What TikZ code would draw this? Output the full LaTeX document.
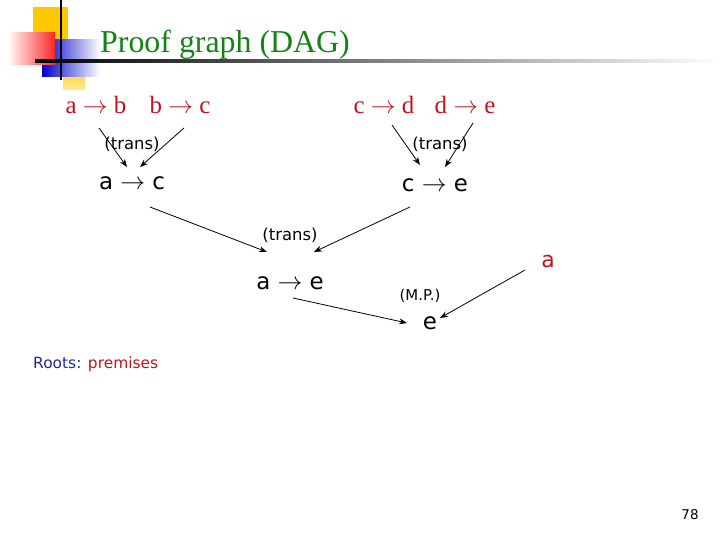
\documentclass[tikz,border=0pt]{standalone}
\usepackage{fontspec}
\setmainfont{Liberation Serif}
\setsansfont{DejaVu Sans}
\usetikzlibrary{arrows.meta}
\definecolor{dgreen}{RGB}{20,130,20}
\definecolor{dred}{RGB}{190,20,30}
\definecolor{dblue}{RGB}{40,40,150}
\definecolor{gold}{RGB}{255,200,0}
\tikzset{x=1bp,y=-1bp,
prem/.style={text=dred,font=\fontsize{25}{26}\selectfont,inner sep=0pt},
rule/.style={font=\sffamily\fontsize{16.5}{18}\selectfont,inner sep=0pt},
form/.style={font=\sffamily\fontsize{23}{25}\selectfont,inner sep=0pt},
edge/.style={-{Stealth[length=8pt,width=6pt]},line width=0.8pt}}
\begin{document}
\begin{tikzpicture}
\useasboundingbox (0,0) rectangle (720,540);
% decoration
\fill[gold] (33,7) rectangle (68,45);
\shade[top color=gold, bottom color=gold!40] (63,62) rectangle (85,90);
\shade[left color=blue!80!black, right color=white] (42,40) rectangle (100,77);
\shade[left color=red!5, right color=red!85] (10,33) rectangle (55,65);
\draw[line width=2pt] (61,0) -- (61,80);
\shade[left color=black, right color=white] (35,60) rectangle (720,62.5);
\node[text=dgreen,font=\fontsize{32}{34}\selectfont,anchor=west,inner sep=0pt] (title) at (100,45) {Proof graph (DAG)};
% premises
\node[prem] (ab) at (96,105) {a $\rightarrow$ b};
\node[prem] (bc) at (180,105) {b $\rightarrow$ c};
\node[prem] (cd) at (384,105) {c $\rightarrow$ d};
\node[prem] (de) at (465,105) {d $\rightarrow$ e};
\node[rule] (t1) at (132,144) {(trans)};
\node[rule] (t2) at (440,144) {(trans)};
\node[form] (ac) at (132,183) {a $\rightarrow$ c};
\node[form] (ce) at (435,185) {c $\rightarrow$ e};
\node[rule] (t3) at (290,235) {(trans)};
\node[form] (ae) at (290,283) {a $\rightarrow$ e};
\node[prem,font=\sffamily\fontsize{22}{24}\selectfont] (a) at (548,262) {a};
\node[rule,font=\sffamily\fontsize{15}{16}\selectfont] (mp) at (420,296) {(M.P.)};
\node[form] (e) at (430,323) {e};
\node[anchor=west,inner sep=0pt,font=\sffamily\fontsize{15.5}{17}\selectfont] (roots) at (33,364) {\textcolor{dblue}{Roots:} \textcolor{dred}{premises}};
\node[font=\sffamily\fontsize{13.5}{14}\selectfont,inner sep=0pt] (pg) at (690,515) {78};
% edges
\draw[edge] ([shift={(3,23)}]ab.center) -- ([shift={(-5,-16)}]ac.center);
\draw[edge] ([shift={(4,23)}]bc.center) -- ([shift={(8,-16)}]ac.center);
\draw[edge] ([shift={(8,20)}]cd.center) -- ([shift={(-15,-20)}]ce.center);
\draw[edge] ([shift={(8,18)}]de.center) -- ([shift={(10,-18)}]ce.center);
\draw[edge] ([shift={(18,24)}]ac.center) -- ([shift={(-23,-31)}]ae.center);
\draw[edge] ([shift={(-25,22)}]ce.center) -- ([shift={(24,-31)}]ae.center);
\draw[edge] ([shift={(3,15)}]ae.center) -- ([shift={(-23,0)}]e.center);
\draw[edge] ([shift={(-23,8)}]a.center) -- ([shift={(10,-5)}]e.center);
\end{tikzpicture}
\end{document}
